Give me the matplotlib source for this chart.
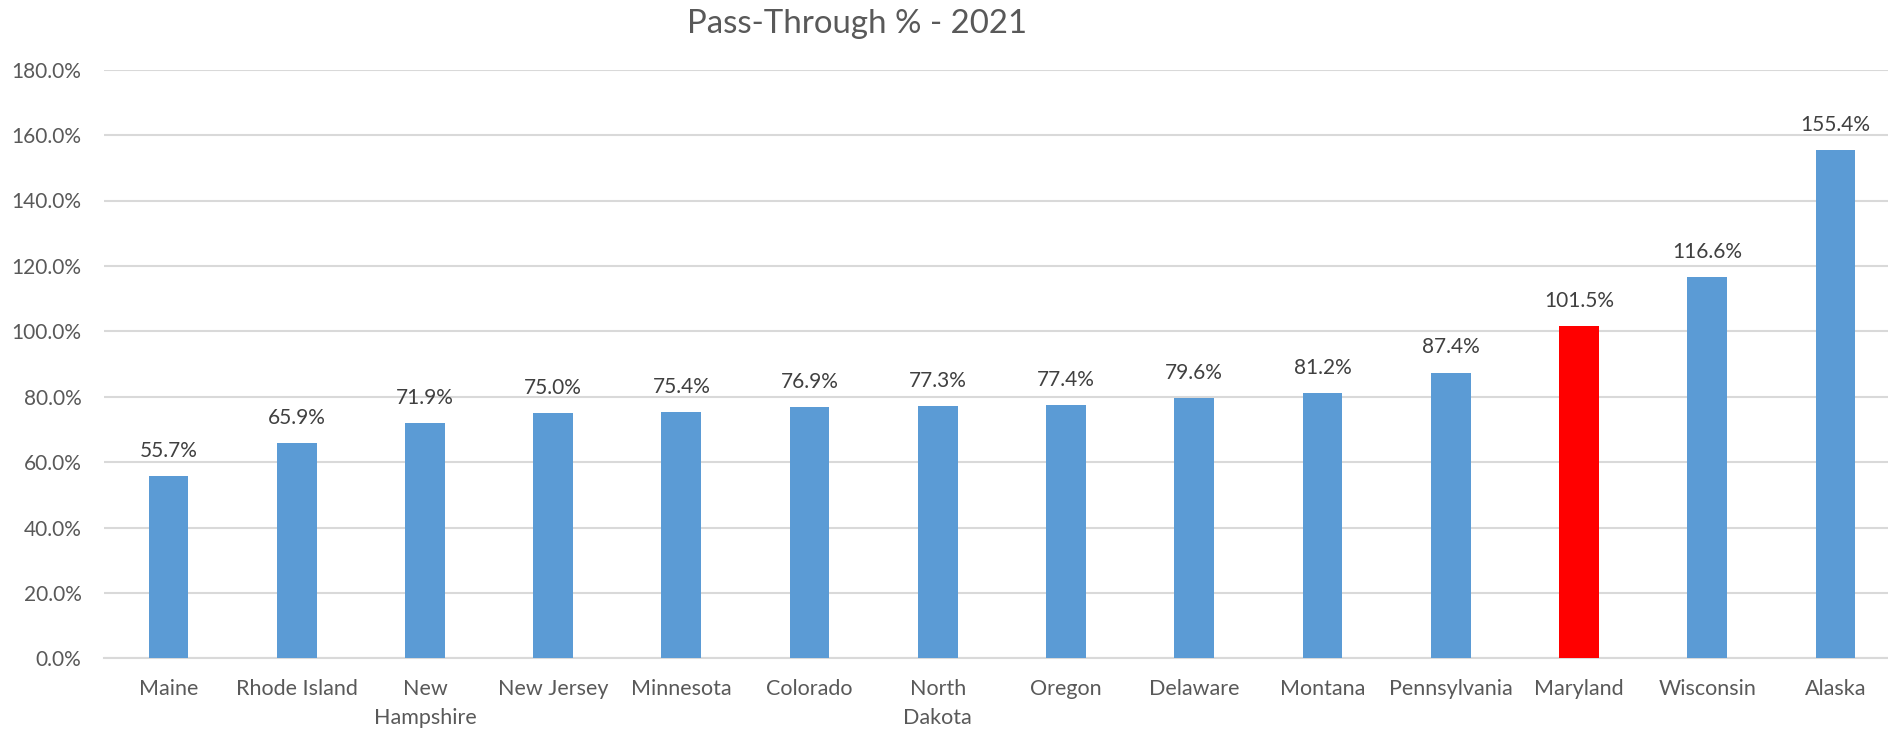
import matplotlib
matplotlib.use("Agg")
import matplotlib.pyplot as plt
from matplotlib.ticker import FuncFormatter

states = ["Maine", "Rhode Island", "New\nHampshire", "New Jersey", "Minnesota",
          "Colorado", "North\nDakota", "Oregon", "Delaware", "Montana",
          "Pennsylvania", "Maryland", "Wisconsin", "Alaska"]
values = [55.7, 65.9, 71.9, 75.0, 75.4, 76.9, 77.3, 77.4, 79.6, 81.2, 87.4, 101.5, 116.6, 155.4]
highlight = "Maryland"
title = "Pass-Through % - 2021"
yticks = [0, 20, 40, 60, 80, 100, 120, 140, 160, 180]

plt.rcParams['font.family'] = ['Lato', 'DejaVu Sans']

W, H = 1888, 732
fig = plt.figure(figsize=(W / 100, H / 100), dpi=100)
left, right = 104.3, 1899.6
bottom, top = 658.3, 69.7
ax = fig.add_axes([left / W, (H - bottom) / H, (right - left) / W, (bottom - top) / H])

x = list(range(len(states)))
colors = ["#FF0000" if s.replace("\n", " ") == highlight else "#5B9BD5" for s in states]
ax.bar(x, values, width=0.31, color=colors, zorder=3)

ax.set_xlim(-0.5, len(states) - 0.5)
ax.set_ylim(0, 180)
ax.set_yticks(yticks)
ax.yaxis.set_major_formatter(FuncFormatter(lambda v, p: f"{v:.1f}%"))
ax.grid(axis="y", color="#D9D9D9", linewidth=1.5, zorder=0)
for s in ["top", "right", "left"]:
    ax.spines[s].set_visible(False)
ax.spines["bottom"].set_color("#D9D9D9")
ax.spines["bottom"].set_linewidth(1.5)

ax.set_xticks(x)
ax.set_xticklabels(states, fontsize=15.5, color="#595959", linespacing=1.55, va="top")
ax.tick_params(axis="x", length=0, pad=15)
ax.tick_params(axis="y", length=0, pad=16.5, labelsize=15, labelcolor="#595959")

for xi, v in zip(x, values):
    ax.annotate(f"{v:.1f}%", (xi, v), xytext=(0, 13.7), textcoords="offset points",
                ha="center", va="baseline", fontsize=15, color="#404040")

fig.text(857.5 / W, 1 - 33.3 / H, title, ha="center", va="baseline", fontsize=23.8, color="#595959")

fig.savefig("out.png", dpi=100)
